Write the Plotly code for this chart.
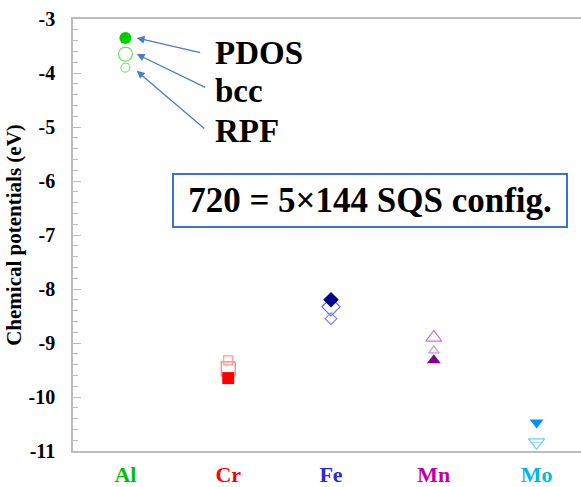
import plotly.graph_objects as go

elements = ["Al", "Cr", "Fe", "Mn", "Mo"]
label_colors = ["#00c000", "#ff0000", "#2b2bd0", "#c000a0", "#00b8e0"]
pdos = [-3.35, -9.65, -8.20, -9.32, -10.47]
bcc = [-3.65, -9.48, -8.33, -8.90, -10.84]
rpf = [-3.90, -9.32, -8.55, -9.14, -10.88]
y_tick_values = [-11, -10, -9, -8, -7, -6, -5, -4, -3]
y_tick_labels = ["-11", "-10", "-9", "-8", "-7", "-6", "-5", "-4", "-3"]

filled_colors = ["#00cc00", "#ff0000", "#000090", "#800090", "#0090ff"]
open_colors = ["#66dd66", "#ff7777", "#6a6aee", "#cc77dd", "#66ccff"]
small_colors = ["#88e088", "#ff9999", "#8080f0", "#d090e0", "#88d8ff"]
filled_symbols = ["circle", "square", "diamond", "triangle-up", "triangle-down"]
open_symbols = [s + "-open" for s in filled_symbols]

FONT = "Liberation Serif, Times New Roman, serif"
xs = list(range(len(elements)))

W, H = 588, 487
L, T, B = 73, 19, 34

fig = go.Figure()
fig.add_trace(go.Scatter(x=xs, y=bcc, mode="markers", name="bcc",
                         marker=dict(symbol=open_symbols, size=14, color=open_colors,
                                     line=dict(width=1.2, color=open_colors))))
fig.add_trace(go.Scatter(x=xs, y=rpf, mode="markers", name="RPF",
                         marker=dict(symbol=open_symbols, size=9, color=small_colors,
                                     line=dict(width=1.2, color=small_colors))))
fig.add_trace(go.Scatter(x=xs, y=pdos, mode="markers", name="PDOS",
                         marker=dict(symbol=filled_symbols, size=12, color=filled_colors,
                                     line=dict(width=0))))

ticktext = [f"<b><span style='color:{c}'>{e}</span></b>" for e, c in zip(elements, label_colors)]

fig.update_layout(
    width=W, height=H,
    margin=dict(l=L, r=0, t=T, b=B),
    paper_bgcolor="white", plot_bgcolor="white",
    showlegend=False,
    font=dict(family=FONT, color="black"),
    xaxis=dict(range=[-0.51, 4.5], tickvals=xs, ticktext=ticktext,
               showgrid=False, zeroline=False, showline=True, linecolor="#bbbbbb",
               linewidth=1.5, mirror=True, ticks="", ticklabelstandoff=3,
               tickfont=dict(family=FONT, size=22)),
    yaxis=dict(range=[-11, -3], tickvals=y_tick_values,
               ticktext=[f"<b>{t}</b>" for t in y_tick_labels],
               showgrid=False, zeroline=False,
               showline=True, linecolor="#bbbbbb", linewidth=1.5,
               ticks="inside", ticklen=8, tickcolor="#bbbbbb", tickwidth=1,
               minor=dict(dtick=0.2, ticks="inside", ticklen=5, tickcolor="#bbbbbb", tickwidth=1),
               ticklabelstandoff=12,
               tickfont=dict(family=FONT, size=20, color="black"),
               title=dict(text="<b>Chemical potentials (eV)</b>", standoff=1,
                          font=dict(family=FONT, size=21, color="black"))),
)

def px2paper(px, py):
    return (px - L) / (W - L), 1 - (py - T) / (H - T - B)

arrow_color = "#4a7cc4"
for yv, ax, ay in [(pdos[0], 65, 15), (bcc[0], 70, 34), (rpf[0] - 0.06, 69, 59)]:
    fig.add_annotation(x=0.11, y=yv, xref="x", yref="y", ax=ax, ay=ay,
                       showarrow=True, arrowhead=2, arrowsize=1.2, arrowwidth=1.3,
                       arrowcolor=arrow_color, text="")

for txt, px, py in [("PDOS", 213, 53), ("bcc", 213, 91), ("RPF", 213, 132)]:
    x, y = px2paper(px, py)
    fig.add_annotation(x=x, y=y, xref="paper", yref="paper", text=f"<b>{txt}</b>", showarrow=False,
                       xanchor="left", yanchor="middle",
                       font=dict(family=FONT, size=33, color="black"))

bx, by = px2paper(370, 201)
fig.add_annotation(x=bx, y=by, xref="paper", yref="paper", text="<b>720 = 5×144 SQS config.</b>",
                   showarrow=False, xanchor="center", yanchor="middle",
                   font=dict(family=FONT, size=35, color="black"),
                   bordercolor="#3a75c4", borderwidth=2, borderpad=2, bgcolor="white",
                   width=388, height=47)

fig.write_html("out.html", config={"displayModeBar": False},
               post_script="document.body.style.margin='0';document.body.style.padding='0';"
                           "document.body.style.overflow='hidden';")
